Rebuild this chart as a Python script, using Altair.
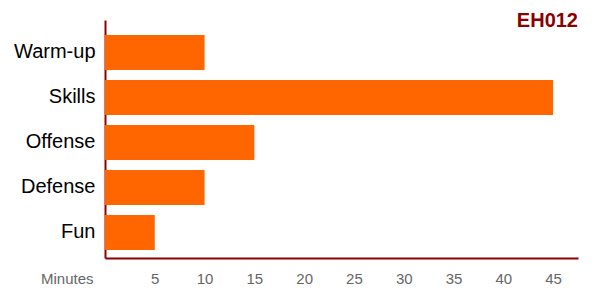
import altair as alt
import pandas as pd

categories = ["Warm-up", "Skills", "Offense", "Defense", "Fun"]
minutes = [10, 45, 15, 10, 5]
tick_values = [5, 10, 15, 20, 25, 30, 35, 40, 45]
chart_title = "EH012"
x_title = "Minutes"

df = pd.DataFrame({"Activity": categories, "Minutes": minutes})

DARK_RED = "#8B0000"
FONT = "Liberation Sans"

chart = (
    alt.Chart(df)
    .mark_bar(color="#FF6600")
    .encode(
        x=alt.X(
            "Minutes:Q",
            scale=alt.Scale(domain=[0, 47.5], nice=False, zero=True),
            axis=alt.Axis(
                values=tick_values,
                title=x_title,
                ticks=False,
                tickSize=0,
                grid=False,
                domainColor=DARK_RED,
                domainWidth=2,
                labelColor="#666666",
                labelFontSize=15,
                labelFont=FONT,
                labelPadding=13,
                titleX=-12,
                titleY=25,
                titleAlign="right",
                titleBaseline="alphabetic",
                titleAngle=0,
                titleFontWeight="normal",
                titleFontSize=15,
                titleFont=FONT,
                titleColor="#666666",
            ),
        ),
        y=alt.Y(
            "Activity:N",
            sort=categories,
            scale=alt.Scale(paddingInner=0.2222, paddingOuter=0.2556, align=0.652),
            axis=alt.Axis(
                title=None,
                ticks=False,
                tickSize=0,
                grid=False,
                domainColor=DARK_RED,
                domainWidth=2,
                labelColor="black",
                labelFontSize=20,
                labelFont=FONT,
                labelPadding=10,
            ),
        ),
    )
    .properties(
        width=473,
        height=238,
        autosize="none",
        padding={"left": 105, "top": 20, "right": 22, "bottom": 42},
        title=alt.TitleParams(
            chart_title,
            anchor="end",
            frame="group",
            baseline="alphabetic",
            offset=-20,
            dy=7,
            font=FONT,
            fontSize=20,
            fontWeight="bold",
            color=DARK_RED,
        ),
    )
    .configure_view(stroke=None)
)

chart.save("out.html", embed_options={"renderer": "svg", "actions": False})
